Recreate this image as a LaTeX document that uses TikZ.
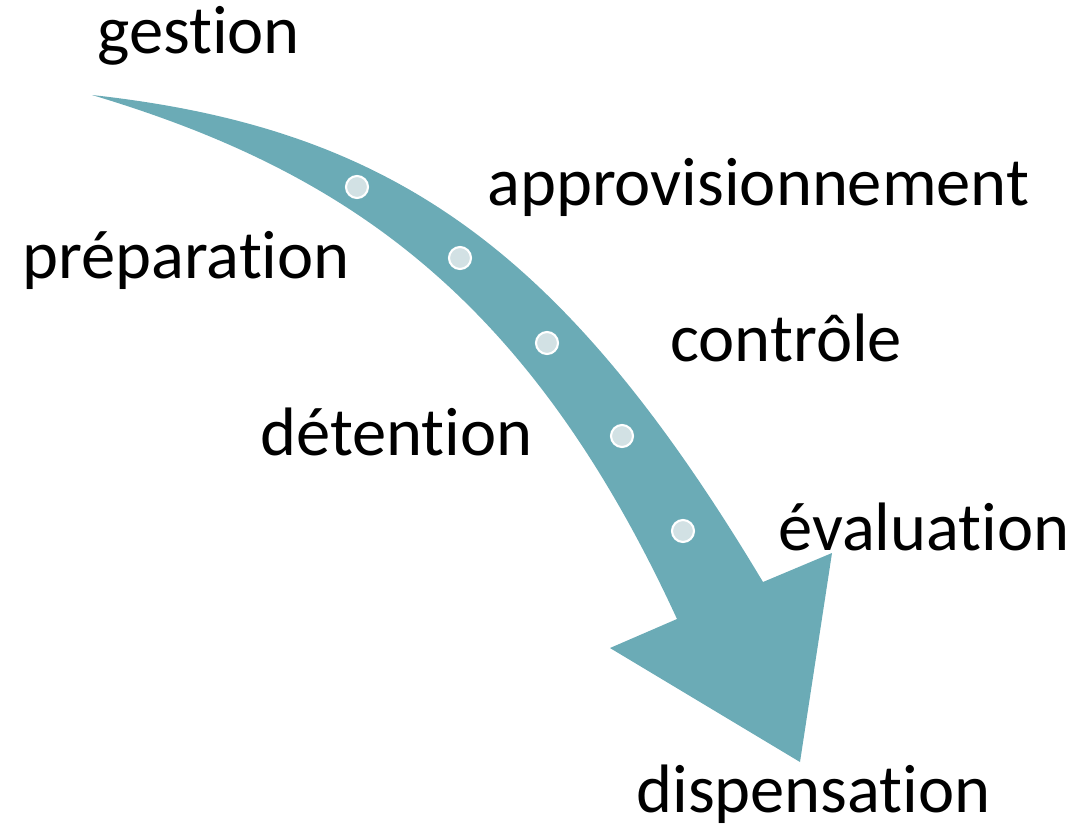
\documentclass[tikz,border=0pt]{standalone}
\usepackage{fontspec}
\setmainfont{Carlito}[Ligatures=NoCommon]
\definecolor{fleche}{HTML}{6BABB6}
\definecolor{pastille}{HTML}{D2E1E4}

\tikzstyle{etape} = [inner sep=0pt, anchor=base west, font=\fontsize{39}{47}\selectfont]
\tikzstyle{point} = [circle, draw=white, line width=1.2pt, fill=pastille, minimum size=0.44cm, inner sep=0pt]

\begin{document}
\begin{tikzpicture}[x=0.02cm, y=-0.02cm]
    \useasboundingbox (0,0) rectangle (1089,829);

    %  fleche
    \fill[fleche] (92,95) .. controls (392,128) and (563,248) .. (763,582)
        -- (832,553) -- (800,762) -- (610,648) -- (677,619)
        .. controls (527,293) and (342,170) .. (92,95) -- cycle;

    %-------------------------------------------------------------
    \node[point] (p1) at (357,187) {};
    \node[point] (p2) at (460,258) {};
    \node[point] (p3) at (547,343) {};
    \node[point] (p4) at (622,436) {};
    \node[point] (p5) at (683,531) {};

    %-------------------------------------------------------------
    \node[etape] (gestion) at (97,53) {gestion};
    \node[etape] (prep) at (22,278) {préparation};
    \node[etape] (appro) at (487,205) {approvisionnement};
    \node[etape] (controle) at (670,361) {contrôle};
    \node[etape] (detention) at (260,455) {détention};
    \node[etape] (evaluation) at (778,550) {évaluation};
    \node[etape] (dispensation) at (636,812) {dispensation};

\end{tikzpicture}
\end{document}
